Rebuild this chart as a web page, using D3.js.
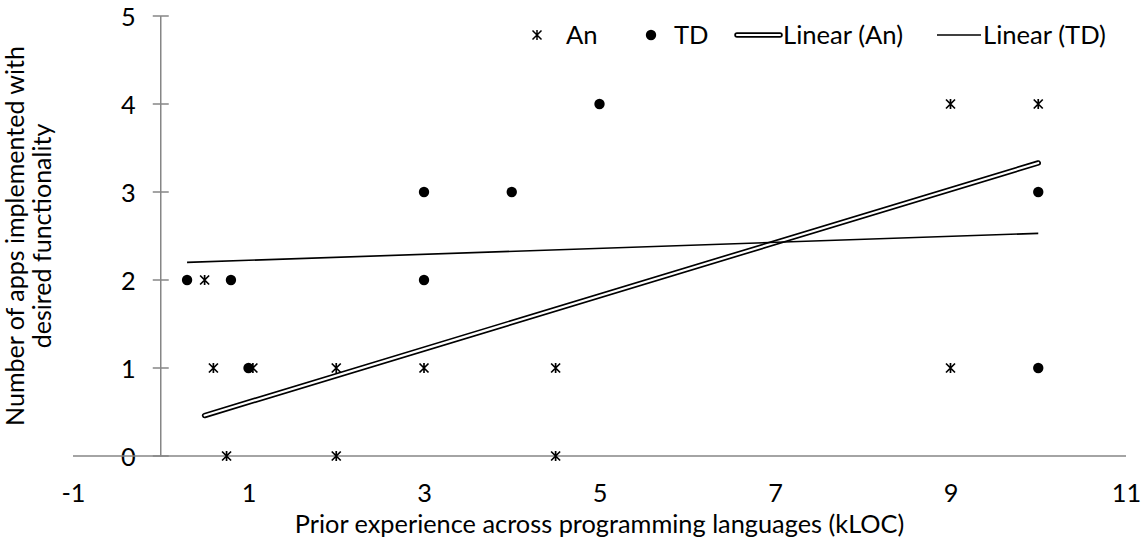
<!DOCTYPE html>
<html>
<head>
<meta charset="utf-8">
<script src="https://cdn.jsdelivr.net/npm/d3@7/dist/d3.min.js"></script>
<style>
  html, body { margin: 0; padding: 0; background: #fff; }
  svg { display: block; }
  text { font-family: Lato, "Open Sans", sans-serif; fill: #000; }
</style>
</head>
<body>
<svg id="chart" width="1146" height="548"></svg>
<script>
// ---- data ----
const anX = [0.5, 0.6, 0.75, 1.05, 2, 2, 3, 4.5, 4.5, 9, 9, 10];
const anY = [2, 1, 0, 1, 1, 0, 1, 1, 0, 4, 1, 4];
const tdX = [0.3, 0.8, 1, 3, 3, 4, 5, 10, 10];
const tdY = [2, 2, 1, 3, 2, 3, 4, 3, 1];
// trendline endpoints
const trendAnX = [0.5, 10];
const trendAnY = [0.46, 3.33];
const trendTdX = [0.3, 10];
const trendTdY = [2.2, 2.53];
const xTicks = [-1, 1, 3, 5, 7, 9, 11];
const yTicks = [0, 1, 2, 3, 4, 5];
const legendLabels = ["An", "TD", "Linear (An)", "Linear (TD)"];
const xTitle = "Prior experience across programming languages (kLOC)";
const yTitleLines = ["Number of apps implemented with", "desired functionality"];

// ---- layout ----
const svg = d3.select("#chart");
const x = d3.scaleLinear().domain([-1, 11]).range([73, 1126]);
const y = d3.scaleLinear().domain([0, 5]).range([456, 16]);
const axisColor = "#868686";
const fmt = d => String(d);

function fit(sel, target, base) {
  sel.style("font-size", base + "px");
  const w = sel.node().getComputedTextLength();
  const f = base * target / w;
  sel.style("font-size", f + "px");
  return f;
}

// x axis title (fit to width), defines the base size
const xt = svg.append("text").attr("x", (73 + 1126) / 2).attr("y", 533)
  .attr("text-anchor", "middle").text(xTitle);
const fs = fit(xt, 610, 22);

// y axis (at x = 0)
const yAxis = d3.axisLeft(y).tickValues(yTicks).tickFormat(fmt).tickSize(0).tickPadding(25);
const gy = svg.append("g").attr("transform", `translate(${x(0)},0)`).call(yAxis);
gy.select(".domain").remove();
gy.selectAll("text").style("font-size", fs + "px").style("font-family", null)
  .attr("dy", "0.36em");
svg.append("line").attr("x1", x(0)).attr("x2", x(0)).attr("y1", y(5)).attr("y2", y(0))
  .attr("stroke", axisColor).attr("stroke-width", 1.5);
svg.selectAll(".ytick").data(yTicks).join("line").attr("class", "ytick")
  .attr("x1", x(0) - 8).attr("x2", x(0) + 8)
  .attr("y1", d => y(d)).attr("y2", d => y(d))
  .attr("stroke", axisColor).attr("stroke-width", 1.5);

// x axis (at y = 0)
const xAxis = d3.axisBottom(x).tickValues(xTicks).tickFormat(fmt).tickSize(0).tickPadding(0);
const gx = svg.append("g").attr("transform", `translate(0,${y(0)})`).call(xAxis);
gx.select(".domain").remove();
gx.selectAll("text").style("font-size", fs + "px").style("font-family", null)
  .attr("y", 493 - y(0)).attr("dy", "0.36em");
svg.append("line").attr("x1", x(-1)).attr("x2", x(11)).attr("y1", y(0)).attr("y2", y(0))
  .attr("stroke", axisColor).attr("stroke-width", 1.5);

// y axis title
const yt = svg.append("text").attr("transform", `translate(0,236) rotate(-90)`)
  .attr("text-anchor", "middle");
yt.selectAll("tspan").data(yTitleLines).join("tspan")
  .attr("x", 0).attr("y", (d, i) => 24 + i * 27).text(d => d);
const yfs = fit(yt.select("tspan"), 380, 22);
yt.style("font-size", yfs + "px");
yt.selectAll("tspan").style("font-size", null);

// trendlines
const line = d3.line().x(d => x(d[0])).y(d => y(d[1]));
const anTrend = trendAnX.map((v, i) => [v, trendAnY[i]]);
const tdTrend = trendTdX.map((v, i) => [v, trendTdY[i]]);
svg.append("path").attr("d", line(anTrend)).attr("stroke", "#000").attr("stroke-width", 5.5)
  .attr("stroke-linecap", "round").attr("fill", "none");
svg.append("path").attr("d", line(anTrend)).attr("stroke", "#fff").attr("stroke-width", 2.2)
  .attr("stroke-linecap", "round").attr("fill", "none");
svg.append("path").attr("d", line(tdTrend)).attr("stroke", "#000").attr("stroke-width", 1.6)
  .attr("fill", "none");

// markers
const starPath = "M-4.5,-4.5L4.5,4.5M-4.5,4.5L4.5,-4.5M0,-5L0,5";
svg.selectAll(".an").data(anX.map((v, i) => [v, anY[i]])).join("path").attr("class", "an")
  .attr("transform", d => `translate(${x(d[0])},${y(d[1])})`)
  .attr("d", starPath).attr("stroke", "#000").attr("stroke-width", 1.7).attr("fill", "none");
svg.selectAll(".td").data(tdX.map((v, i) => [v, tdY[i]])).join("circle").attr("class", "td")
  .attr("cx", d => x(d[0])).attr("cy", d => y(d[1])).attr("r", 5.2).attr("fill", "#000");

// legend
const ly = 35;
const lg = svg.append("g");
lg.append("path").attr("transform", `translate(537,${ly})`).attr("d", starPath)
  .attr("stroke", "#000").attr("stroke-width", 1.5).attr("fill", "none");
lg.append("circle").attr("cx", 651).attr("cy", ly).attr("r", 5.2).attr("fill", "#000");
lg.append("line").attr("x1", 737).attr("x2", 780).attr("y1", ly).attr("y2", ly)
  .attr("stroke", "#000").attr("stroke-width", 5.5).attr("stroke-linecap", "round");
lg.append("line").attr("x1", 737).attr("x2", 780).attr("y1", ly).attr("y2", ly)
  .attr("stroke", "#fff").attr("stroke-width", 2.2).attr("stroke-linecap", "round");
lg.append("line").attr("x1", 937).attr("x2", 981).attr("y1", ly).attr("y2", ly)
  .attr("stroke", "#000").attr("stroke-width", 1.6);
const lx = [566, 674, 783, 983];
const lt = lg.selectAll(".lt").data(legendLabels).join("text").attr("class", "lt")
  .attr("x", (d, i) => lx[i]).attr("y", ly).attr("dy", "0.36em").text(d => d);
const lfs = fit(lt.filter((d, i) => i === 3), 123, 22);
lt.style("font-size", lfs + "px");
</script>
</body>
</html>
